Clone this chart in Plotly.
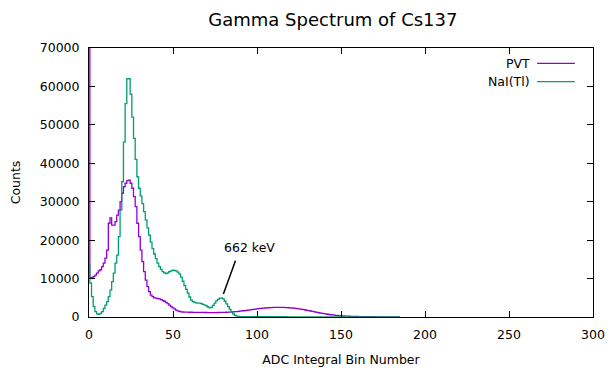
import plotly.graph_objects as go

# ---------------- data ----------------
bins = list(range(0, 186))

nai_counts = [
    13500, 8800, 5300, 2700, 1400, 800, 700, 950, 1400, 2250,
    3100, 4000, 5300, 7000, 9200, 11400, 14000, 16100, 20900, 27800,
    35200, 45500, 55500, 62000, 62000, 58000, 52000, 46500, 41000, 36500,
    33500, 31500, 29500, 27400, 25300, 23200, 21300, 19500, 17800, 16400,
    15200, 14000, 13100, 12400, 11800, 11500, 11300, 11500, 11800, 12000,
    12200, 12100, 12000, 11700, 11200, 10400, 9300, 8200, 7200, 6200,
    5200, 4400, 4000, 3800, 3700, 3600, 3600, 3500, 3300, 3100,
    2900, 2600, 2400, 2500, 3000, 3600, 4200, 4600, 4900, 5000,
    4700, 4100, 3400, 2700, 2000, 1300, 800, 450, 250, 150,
    110, 100, 100, 95, 95, 90, 90, 90, 85, 85,
    85, 80, 80, 80, 80, 75, 75, 75, 70, 70,
    70, 70, 65, 65, 65, 60, 60, 60, 60, 55,
    55, 55, 50, 50, 50, 50, 45, 45, 45, 45,
    40, 40, 40, 40, 35, 35, 35, 35, 30, 30,
    30, 30, 30, 25, 25, 25, 25, 20, 20, 20,
    20, 20, 15, 15, 15, 15, 15, 10, 10, 10,
    10, 10, 10, 5, 5, 5, 5, 5, 5, 5,
    0, 0, 0, 0, 0, 0, 0, 0, 0, 0,
    0, 0, 0, 0, 0, 0,
]

pvt_counts = [
    150000, 10300, 10200, 10500, 10900, 11400, 12000, 12300, 13100, 14000,
    15300, 17400, 24400, 25800, 23900, 23900, 24800, 26500, 27800, 30000,
    32200, 33900, 34800, 35500, 35600, 34800, 33500, 31300, 28700, 24400,
    20900, 17400, 14400, 11800, 9600, 7900, 6600, 5700, 5300, 5000,
    4900, 4800, 4700, 4500, 4300, 4100, 3800, 3500, 3100, 2700,
    2400, 2100, 1800, 1600, 1450, 1350, 1300, 1280, 1260, 1250,
    1240, 1230, 1220, 1210, 1200, 1200, 1190, 1180, 1180, 1170,
    1170, 1160, 1160, 1150, 1150, 1150, 1160, 1170, 1180, 1190,
    1200, 1210, 1230, 1250, 1270, 1300, 1340, 1380, 1420, 1470,
    1520, 1570, 1620, 1680, 1740, 1800, 1860, 1920, 1980, 2040,
    2100, 2160, 2210, 2260, 2300, 2340, 2380, 2410, 2440, 2460,
    2480, 2490, 2500, 2500, 2500, 2490, 2480, 2460, 2440, 2410,
    2380, 2340, 2290, 2240, 2180, 2120, 2050, 1980, 1900, 1820,
    1740, 1650, 1560, 1470, 1380, 1290, 1200, 1110, 1020, 940,
    860, 790, 720, 650, 590, 530, 480, 430, 390, 350,
    320, 290, 260, 240, 220, 200, 180, 165, 150, 140,
    130, 120, 110, 100, 95, 90, 85, 80, 75, 70,
    60, 55, 50, 45, 40, 35, 30, 25, 20, 15,
    10, 8, 6, 4, 2, 0,
]

x_ticks = [0, 50, 100, 150, 200, 250, 300]
y_ticks = [0, 10000, 20000, 30000, 40000, 50000, 60000, 70000]
y_tick_labels = ["0", "10000", "20000", "30000", "40000", "50000", "60000", "70000"]

title_text = "Gamma Spectrum of Cs137"
x_title = "ADC Integral Bin Number"
y_title = "Counts"
series_names = ["PVT", "NaI(Tl)"]
series_colors = ["#9400D3", "#009E73"]

peak_label = "662 keV"
peak_label_pos = (95.8, 18000)
peak_arrow_tip = (80, 6000)
peak_arrow_tail = (87.5, 15000)

FONT = "DejaVu Sans"

# ---------------- figure ----------------
fig = go.Figure()
for name, ys, col in zip(series_names, [pvt_counts, nai_counts], series_colors):
    fig.add_trace(go.Scatter(
        x=bins, y=ys, name=name, mode="lines",
        line=dict(color=col, width=1.3, shape="hvh"),
        showlegend=False,
    ))

axis_common = dict(
    showline=True, linecolor="black", linewidth=1, mirror="ticks",
    ticks="inside", ticklen=6, tickcolor="black", tickwidth=1,
    showgrid=False, zeroline=False, automargin=False,
    tickfont=dict(family=FONT, size=12.5, color="black"),
)

fig.update_xaxes(
    range=[0, 300], tickvals=x_ticks, ticktext=[str(v) for v in x_ticks],
    title=dict(text=x_title, font=dict(family=FONT, size=12.5, color="black"), standoff=14),
    ticklabelstandoff=6,
    **axis_common,
)
fig.update_yaxes(
    range=[0, 70000], tickvals=y_ticks, ticktext=y_tick_labels,
    title=dict(text=y_title, font=dict(family=FONT, size=12.5, color="black"), standoff=16),
    ticklabelstandoff=6,
    **axis_common,
)

# legend (gnuplot style: text right-aligned, sample line on the right)
legend_rows = [0.943, 0.875]
for name, col, yy in zip(series_names, series_colors, legend_rows):
    fig.add_annotation(
        x=0.879, y=yy, xref="paper", yref="paper", text=name, showarrow=False,
        xanchor="right", yanchor="middle",
        font=dict(family=FONT, size=12.5, color="black"),
    )
    fig.add_shape(
        type="line", xref="paper", yref="paper",
        x0=0.889, x1=0.964, y0=yy, y1=yy,
        line=dict(color=col, width=1.3),
    )

# peak annotation
fig.add_annotation(
    x=peak_arrow_tip[0], y=peak_arrow_tip[1],
    ax=peak_arrow_tail[0], ay=peak_arrow_tail[1],
    axref="x", ayref="y", xref="x", yref="y",
    text="", showarrow=True, arrowhead=0, arrowwidth=1.5, arrowcolor="black",
)
fig.add_annotation(
    x=peak_label_pos[0], y=peak_label_pos[1], xref="x", yref="y",
    text=peak_label, showarrow=False,
    font=dict(family=FONT, size=12.5, color="black"),
)

# the page body has an 8px margin, so the figure is sized to fit the window
fig.update_layout(
    width=605, height=360,
    margin=dict(l=81, r=20, t=40, b=51),
    paper_bgcolor="white", plot_bgcolor="white",
    title=dict(text=title_text, x=0.537, xref="container", xanchor="center", y=0.968, yanchor="middle",
               font=dict(family=FONT, size=18, color="black")),
    showlegend=False,
)

fig.write_html("out.html")
